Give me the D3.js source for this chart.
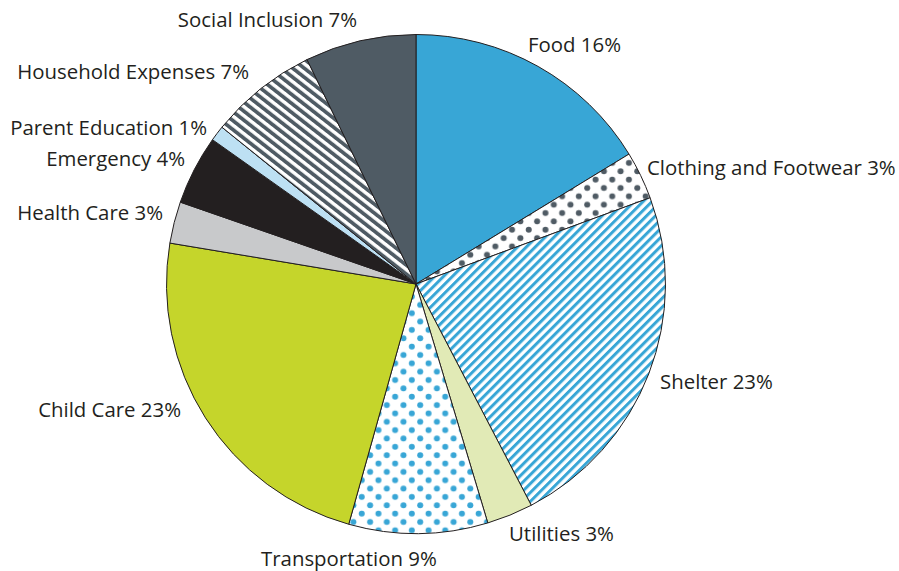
<!DOCTYPE html>
<html><head><meta charset="utf-8">
<script src="https://cdn.jsdelivr.net/npm/d3@7"></script>
<style>body{margin:0;background:#fff}svg{display:block}text{font-family:"Open Sans",sans-serif;fill:#231f20}</style>
</head><body><svg id="c" width="899" height="571"></svg>
<script>
const categories = ["Food","Clothing and Footwear","Shelter","Utilities","Transportation","Child Care","Health Care","Emergency","Parent Education","Household Expenses","Social Inclusion"];
const values = [16.3,3.1,23.0,3.0,9.0,23.3,2.7,4.5,1.0,7.0,7.2];
const labels = ["Food 16%","Clothing and Footwear 3%","Shelter 23%","Utilities 3%","Transportation 9%","Child Care 23%","Health Care 3%","Emergency 4%","Parent Education 1%","Household Expenses 7%","Social Inclusion 7%"];

// style / layout (not data)
const fills = ["#38a6d6","url(#dotsGray)","url(#stripesBlue)","#e1eab6","url(#dotsBlue)","#c5d52b","#c8c9cb","#231f20","#bde0f3","url(#stripesGray)","#4f5b64"];
const labelPos = [[528,52,"start"],[647,175,"start"],[660,389,"start"],[509,541,"start"],[261,566,"start"],[181,417,"end"],[163,220,"end"],[185,166,"end"],[207,135,"end"],[249,79,"end"],[357,27,"end"]];

const svg = d3.select("#c");
const defs = svg.append("defs");
function dots(id,color){
  const p = defs.append("pattern").attr("id",id).attr("patternUnits","userSpaceOnUse").attr("width",16.7).attr("height",16.7);
  p.append("rect").attr("width",16.7).attr("height",16.7).attr("fill","#fff");
  [[4.2,4.2],[12.55,12.55]].forEach(([x,y])=>p.append("circle").attr("cx",x).attr("cy",y).attr("r",3.0).attr("fill",color));
}
dots("dotsGray","#4f5b64");
dots("dotsBlue","#38a6d6");
function stripes(id,color,period,w,angle){
  const p = defs.append("pattern").attr("id",id).attr("patternUnits","userSpaceOnUse").attr("width",period).attr("height",period).attr("patternTransform",`rotate(${angle})`);
  p.append("rect").attr("width",period).attr("height",period).attr("fill","#fff");
  p.append("rect").attr("width",w).attr("height",period).attr("fill",color);
}
stripes("stripesBlue","#38a6d6",6.3,3.0,45);
stripes("stripesGray","#4f5b64",7.1,3.7,-52);

const cx = 416, cy = 284, R = 249.5;
const pie = d3.pie().sort(null).value(d=>d)(values);
const arc = d3.arc().innerRadius(0).outerRadius(R);
const g = svg.append("g").attr("transform",`translate(${cx},${cy})`);
g.selectAll("path").data(pie).join("path")
  .attr("d",arc).attr("fill",(d,i)=>fills[i])
  .attr("stroke","#231f20").attr("stroke-width",1).attr("stroke-linejoin","round");

svg.selectAll("text.lbl").data(labels).join("text").attr("class","lbl")
  .attr("x",(d,i)=>labelPos[i][0]).attr("y",(d,i)=>labelPos[i][1])
  .attr("text-anchor",(d,i)=>labelPos[i][2])
  .attr("font-size",20.4).text(d=>d);
</script></body></html>
